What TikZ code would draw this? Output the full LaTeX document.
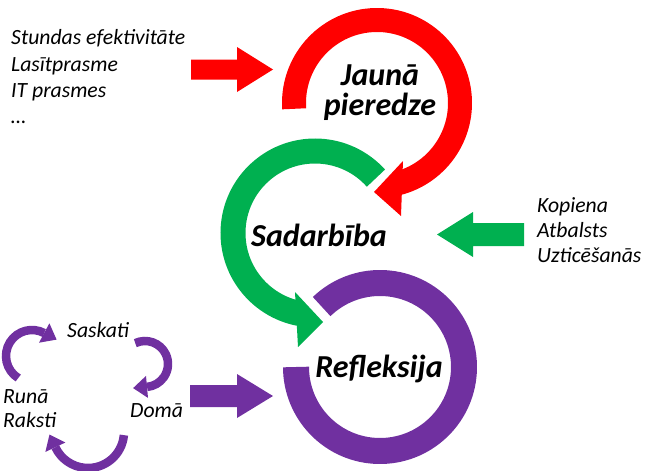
\documentclass[tikz,border=0pt]{standalone}
\usepackage{fontspec}
\setmainfont{Carlito}
\definecolor{sarkans}{RGB}{255,0,0}
\definecolor{zals}{RGB}{0,176,80}
\definecolor{lila}{RGB}{112,48,160}
\tikzset{
  ring/.style={line width=24pt},
  curl/.style={line width=8.5pt, draw=lila},
  bigtxt/.style={font=\fontsize{32}{32}\selectfont\bfseries\itshape, inner sep=0pt},
  smalltxt/.style={font=\fontsize{21.7}{21.7}\selectfont\itshape, inner sep=0pt}
}
\begin{document}
\begin{tikzpicture}[x=1pt, y=-1pt]
  \useasboundingbox (0,0) rectangle (646,471);

  % The three big circular arrows
  \draw [ring, draw=sarkans] (377,103) ++(176:83) arc [start angle=176, end angle=436, radius=83];
  \fill [sarkans] (403,161) -- (374,192) -- (401,216) -- cycle;
  \draw [ring, draw=zals, line width=25pt] (315,233) ++(-42:82) arc [start angle=-42, end angle=-259, radius=82];
  \fill [zals] (295,292) -- (323,322) -- (298,347) -- cycle;
  \draw [ring, draw=lila, line width=26pt] (380,367) ++(-134:84) arc [start angle=-134, end angle=180, radius=84];

  % Labels inside the rings
  \node [bigtxt, anchor=base] (jauna) at (380,85) {Jaunā};
  \node [bigtxt, anchor=base] (pieredze) at (380,115) {pieredze};
  \node [bigtxt, anchor=base] (sadarbiba) at (319,246) {Sadarbība};
  \node [bigtxt, anchor=base] (refleksija) at (379,377) {Refleksija};

  % Block arrows feeding the rings
  \fill [sarkans] (191,59.5) -- (237,59.5) -- (237,47) -- (273,69.5) -- (237,92) -- (237,79.5) -- (191,79.5) -- cycle;
  \fill [zals] (524,223) -- (473,223) -- (473,212) -- (437,234.5) -- (473,257) -- (473,246) -- (524,246) -- cycle;
  \fill [lila] (190,385) -- (237,385) -- (237,374) -- (273,396) -- (237,418) -- (237,407) -- (190,407) -- cycle;

  % Input lists
  \foreach \txt [count=\i] in {Stundas efektivitāte, Lasītprasme, IT prasmes} {
    \node [smalltxt, anchor=base west] (in\i) at (11, 19+26*\i) {\txt};
  }
  \node [smalltxt, anchor=base west] (indots) at (11,123) {\ldots};
  \foreach \txt [count=\i] in {Kopiena, Atbalsts, Uzticēšanās} {
    \node [smalltxt, anchor=base west] (kop\i) at (537, 187+25*\i) {\txt};
  }

  % Small reflection cycle
  \node [smalltxt, anchor=base west] (saskati) at (67,337) {Saskati};
  \node [smalltxt, anchor=base west] (doma) at (130,417) {Domā};
  \node [smalltxt, anchor=base west] (runa) at (3,403) {Runā};
  \node [smalltxt, anchor=base west] (raksti) at (3,427) {Raksti};
  \draw [curl] (32,356) ++(122:26) arc [start angle=122, end angle=298, radius=26];
  \fill [lila] (49.4,323.3) -- (56.6,339.6) -- (39.0,342.7) -- cycle;
  \draw [curl] (145,364) ++(-115:23) arc [start angle=-115, end angle=85, radius=23];
  \fill [lila] (148.0,397.9) -- (133.1,388.1) -- (146.0,375.9) -- cycle;
  \draw [curl] (88,432) ++(5:36) arc [start angle=5, end angle=155, radius=36];
  \fill [lila] (45.4,451.9) -- (49.5,434.5) -- (65.4,442.5) -- cycle;
\end{tikzpicture}
\end{document}
